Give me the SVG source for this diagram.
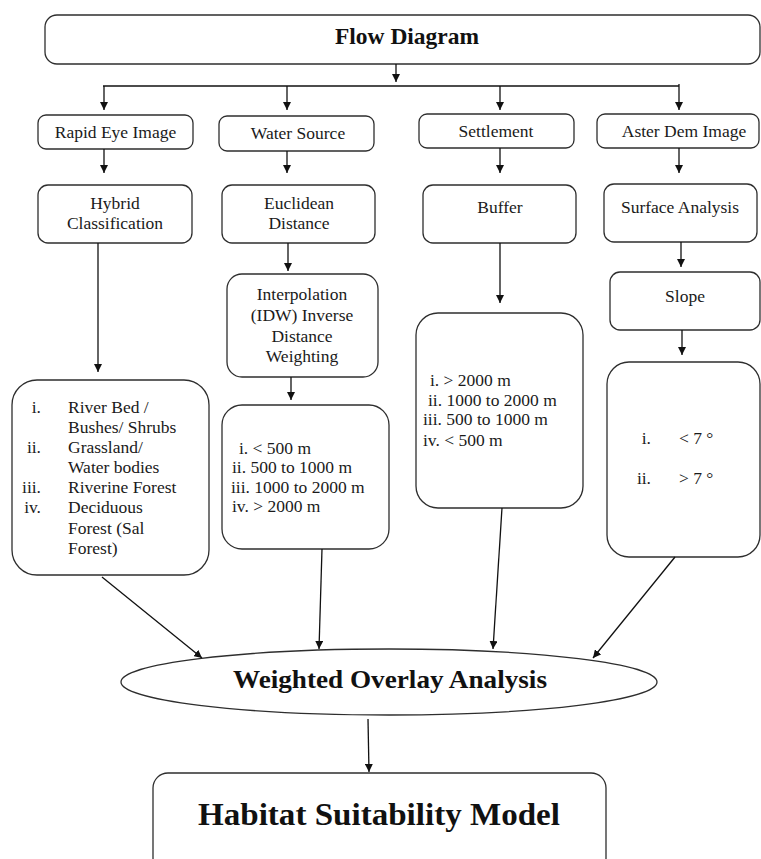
<svg xmlns="http://www.w3.org/2000/svg" width="761" height="859" viewBox="0 0 761 859">
<style>
.box{fill:#fff;stroke:#2e2e2e;stroke-width:1.3}
.t{font-family:"Liberation Serif","Times New Roman",serif;font-size:17.5px;fill:#1a1a1a}
.c{text-anchor:middle}
.e{text-anchor:end}
.b{font-weight:bold;fill:#111}
.s22{font-size:22.5px}
.s26{font-size:26px}
.s31{font-size:31px}
.ln{stroke:#111;stroke-width:1.3;fill:none}
.ar{marker-end:url(#ah)}
</style>
<defs>
<marker id="ah" markerUnits="userSpaceOnUse" markerWidth="8" markerHeight="8" refX="8" refY="4" orient="auto">
<path d="M0,0 L8,4 L0,8 z" fill="#111"/>
</marker>
</defs>
<rect width="761" height="859" fill="#fff"/>

<g id="flow-diagram">
<rect class="box" x="45" y="15" width="715" height="49" rx="12"/>
<text class="t c b s22" x="407" y="44" textLength="144" lengthAdjust="spacingAndGlyphs">Flow Diagram</text>
</g>

<g id="rapid-eye"><rect class="box" x="38" y="115" width="155" height="34" rx="8"/><text class="t c" x="115.5" y="138">Rapid Eye Image</text></g>
<g id="water-source"><rect class="box" x="219" y="116" width="155" height="35" rx="8"/><text class="t c" x="298" y="139">Water Source</text></g>
<g id="settlement"><rect class="box" x="419" y="114" width="155" height="34" rx="8"/><text class="t c" x="496" y="137">Settlement</text></g>
<g id="aster-dem"><rect class="box" x="597" y="114" width="162" height="34" rx="8"/><text class="t c" x="684" y="137">Aster Dem Image</text></g>

<g id="hybrid"><rect class="box" x="38" y="185" width="154" height="58" rx="10"/><text class="t c" x="115" y="209">Hybrid</text><text class="t c" x="115" y="229">Classification</text></g>
<g id="euclidean"><rect class="box" x="222" y="185" width="153" height="58" rx="10"/><text class="t c" x="299" y="209">Euclidean</text><text class="t c" x="299" y="229">Distance</text></g>
<g id="buffer"><rect class="box" x="423" y="185" width="153" height="58" rx="10"/><text class="t c" x="500" y="213">Buffer</text></g>
<g id="surface"><rect class="box" x="604" y="184" width="153" height="58" rx="10"/><text class="t c" x="680" y="213">Surface Analysis</text></g>

<g id="interpolation"><rect class="box" x="227" y="274" width="151" height="103" rx="15"/>
<text class="t c" x="302" y="300">Interpolation</text>
<text class="t c" x="302" y="321">(IDW) Inverse</text>
<text class="t c" x="302" y="342">Distance</text>
<text class="t c" x="302" y="362">Weighting</text></g>
<g id="slope"><rect class="box" x="610" y="272" width="150" height="58" rx="10"/><text class="t c" x="685" y="302">Slope</text></g>

<g id="landcover-classes"><rect class="box" x="12" y="380" width="197" height="195" rx="25"/>
<text class="t e" x="41" y="413">i.</text>
<text class="t e" x="41" y="453">ii.</text>
<text class="t e" x="41" y="493">iii.</text>
<text class="t e" x="41" y="513">iv.</text>
<text class="t" x="68" y="413">River Bed /</text>
<text class="t" x="68" y="433">Bushes/ Shrubs</text>
<text class="t" x="68" y="453">Grassland/</text>
<text class="t" x="68" y="473">Water bodies</text>
<text class="t" x="68" y="493">Riverine Forest</text>
<text class="t" x="68" y="513">Deciduous</text>
<text class="t" x="68" y="533.5">Forest (Sal</text>
<text class="t" x="68" y="554">Forest)</text></g>

<g id="water-classes"><rect class="box" x="222" y="405" width="167" height="144" rx="20"/>
<text class="t" x="239" y="454">i. &lt; 500 m</text>
<text class="t" x="232" y="473">ii. 500 to 1000 m</text>
<text class="t" x="231" y="493">iii. 1000 to 2000 m</text>
<text class="t" x="232" y="512">iv. &gt; 2000 m</text></g>

<g id="settlement-classes"><rect class="box" x="416" y="313" width="167" height="195" rx="22"/>
<text class="t" x="430" y="386">i. &gt; 2000 m</text>
<text class="t" x="428" y="406">ii. 1000 to 2000 m</text>
<text class="t" x="423" y="425">iii. 500 to 1000 m</text>
<text class="t" x="423" y="446">iv. &lt; 500 m</text></g>

<g id="slope-classes"><rect class="box" x="607" y="362" width="153" height="195" rx="22"/>
<text class="t e" x="651" y="444">i.</text>
<text class="t" x="679" y="444">&lt; 7 °</text>
<text class="t e" x="651" y="484">ii.</text>
<text class="t" x="679" y="484">&gt; 7 °</text></g>

<g id="weighted-overlay"><ellipse class="box" cx="389" cy="682" rx="268" ry="33"/>
<text class="t c b s26" x="390" y="688" textLength="314" lengthAdjust="spacingAndGlyphs">Weighted Overlay Analysis</text></g>

<g id="habitat-model"><rect class="box" x="153" y="773" width="453" height="100" rx="15"/>
<text class="t c b s31" x="379" y="825" textLength="362" lengthAdjust="spacingAndGlyphs">Habitat Suitability Model</text></g>

<g id="connectors">
<line class="ln ar" x1="396" y1="64" x2="396" y2="82"/>
<line class="ln" x1="103" y1="86" x2="679" y2="86"/>
<line class="ln ar" x1="104" y1="86" x2="104" y2="110"/>
<line class="ln ar" x1="287" y1="86" x2="287" y2="110"/>
<line class="ln ar" x1="500" y1="86" x2="500" y2="110"/>
<line class="ln ar" x1="679" y1="84" x2="679" y2="110"/>
<line class="ln ar" x1="104" y1="149" x2="104" y2="173"/>
<line class="ln ar" x1="287" y1="151" x2="287" y2="173"/>
<line class="ln ar" x1="500" y1="148" x2="500" y2="173"/>
<line class="ln ar" x1="679" y1="148" x2="679" y2="173"/>
<line class="ln ar" x1="98" y1="243" x2="98" y2="372"/>
<line class="ln ar" x1="288" y1="243" x2="288" y2="271"/>
<line class="ln ar" x1="500" y1="243" x2="500" y2="303"/>
<line class="ln ar" x1="681" y1="242" x2="681" y2="267"/>
<line class="ln ar" x1="291" y1="377" x2="291" y2="400"/>
<line class="ln ar" x1="682" y1="330" x2="682" y2="355"/>
<line class="ln ar" x1="102" y1="577" x2="202" y2="658"/>
<line class="ln ar" x1="322" y1="549" x2="319" y2="649"/>
<line class="ln ar" x1="502" y1="508" x2="493" y2="649"/>
<line class="ln ar" x1="675" y1="557" x2="593" y2="658"/>
<line class="ln ar" x1="368" y1="719" x2="369" y2="772"/>
</g>
</svg>
